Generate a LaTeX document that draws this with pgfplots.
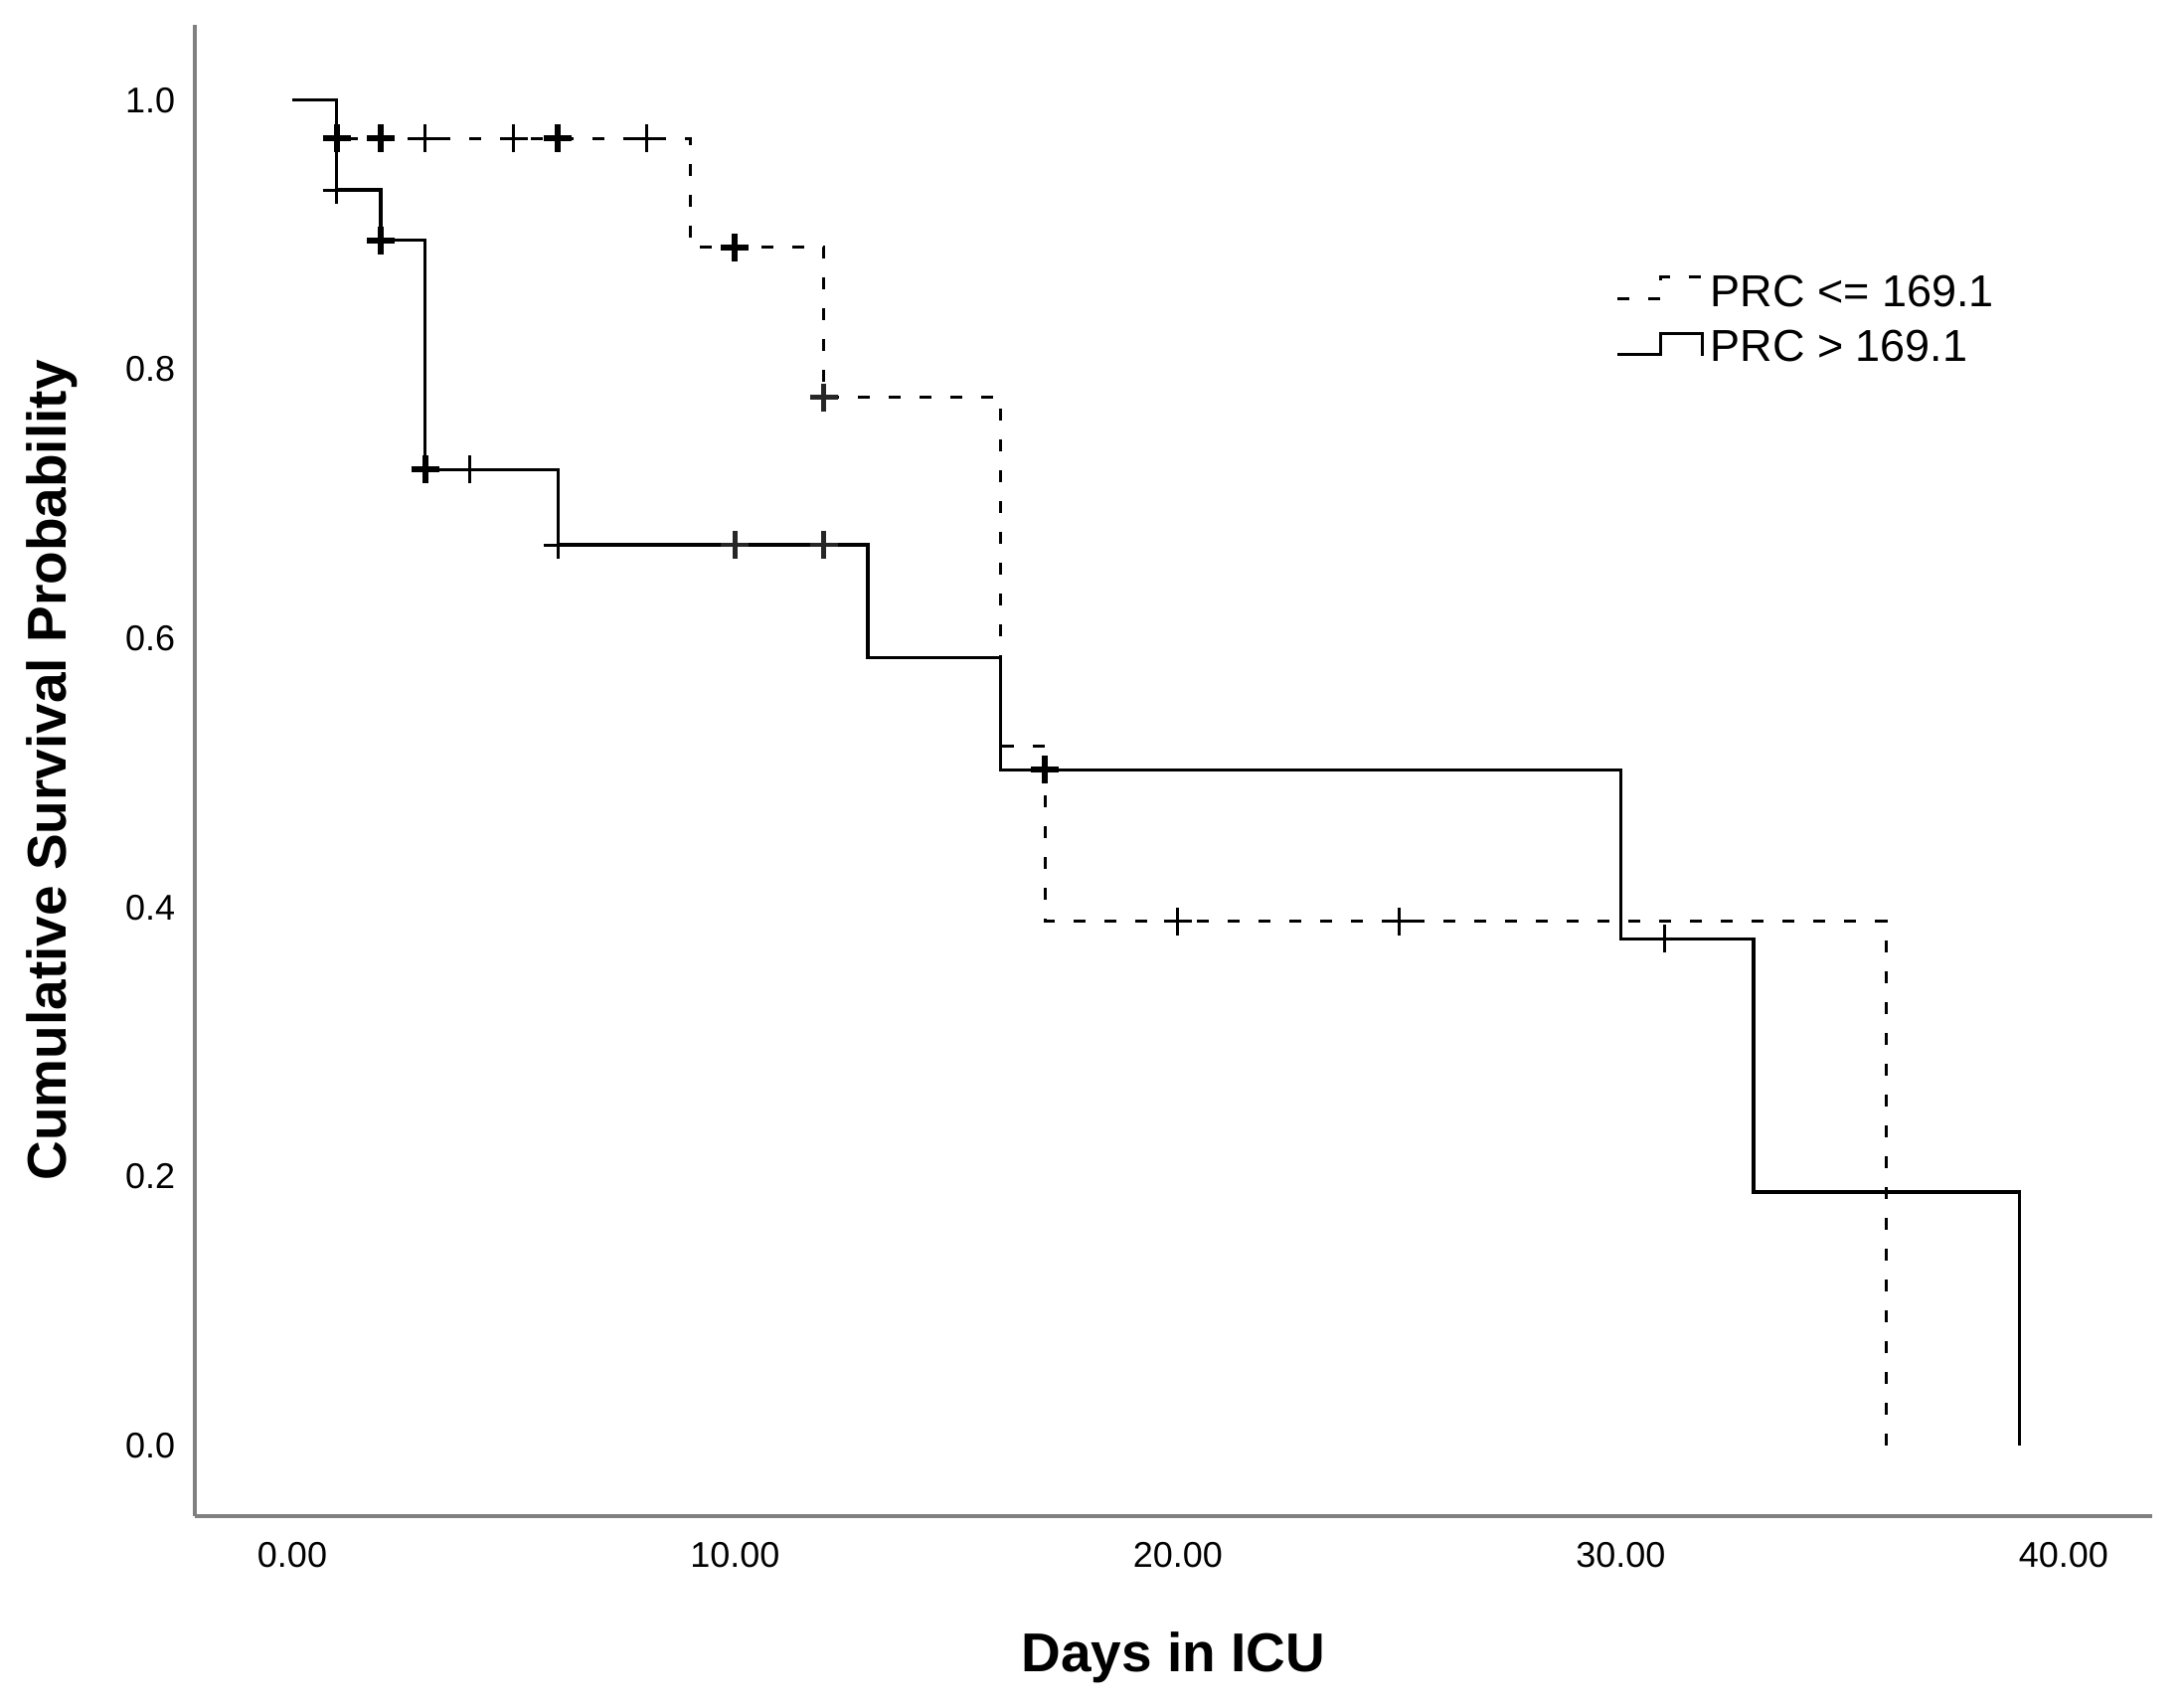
\documentclass[border=0pt]{standalone}
\usepackage{fontspec}
\setmainfont{Liberation Sans}
\usepackage{pgfplots}
\pgfplotsset{compat=1.18}
\begin{document}
\begin{tikzpicture}
\useasboundingbox (-58.8pt,-57.6pt) rectangle (600.3pt,457.5pt);
\begin{axis}[
  at={(0,0)}, anchor=south west,
  scale only axis, width=590.7pt, height=450pt,
  xmin=-2.2, xmax=42.0, ymin=-0.0525, ymax=1.056,
  axis lines*=left,
  axis line style={black!50, line width=1.1pt},
  major tick length=0pt,
  xtick={0,10,20,30,40},
  ytick={0,0.2,0.4,0.6,0.8,1.0},
  /pgf/number format/assume math mode=true,
  x tick label style={font=\fontsize{10.8pt}{12pt}\selectfont, yshift=-4.5pt,
    /pgf/number format/.cd, fixed, fixed zerofill, precision=2, /tikz/.cd},
  y tick label style={font=\fontsize{10.8pt}{12pt}\selectfont, xshift=-2.4pt,
    /pgf/number format/.cd, fixed, fixed zerofill, precision=1, /tikz/.cd},
  xlabel={Days in ICU},
  ylabel={Cumulative Survival Probability},
  x label style={font=\fontsize{16.5pt}{19pt}\selectfont\bfseries,
    at={(axis description cs:0.5,-0.0947)}, anchor=center},
  y label style={font=\fontsize{16.5pt}{19pt}\selectfont\bfseries,
    at={(axis description cs:-0.0731,0.5)}, anchor=center, rotate=0},
  legend style={draw=none, fill=none, at={(rel axis cs:0.7257,0.8367)},
    anchor=north west, inner sep=0pt, row sep=1.5pt,
    font=\fontsize{13.5pt}{15pt}\selectfont},
  legend cell align=left,
]
\addplot[const plot, black, line width=0.9pt, dash pattern=on 3.6pt off 5.7pt,
  legend image code/.code={\draw[black, line width=0.9pt, dash pattern=on 3.6pt off 5.7pt]
    (0pt,-1.5pt) -- (13pt,-1.5pt) -- (13pt,5pt) -- (25.5pt,5pt) -- (25.5pt,3pt);}]
  coordinates {(0,1) (1,0.9714) (9,0.8905) (12,0.7792) (16,0.5195) (17,0.3896) (36,0)};
\addlegendentry{PRC <= 169.1}
\addplot[const plot, black, line width=1pt,
  legend image code/.code={\draw[black, line width=1pt]
    (0pt,-1.8pt) -- (13pt,-1.8pt) -- (13pt,4.5pt) -- (25.5pt,4.5pt) -- (25.5pt,-2.4pt);}]
  coordinates {(0,1) (1,0.9333) (2,0.896) (3,0.7253) (6,0.6695) (13,0.5858) (16,0.5022) (30,0.3766) (33,0.1883) (39,0)};
\addlegendentry{PRC > 169.1}
% thin censor marks
\addplot[only marks, black, mark=+, mark size=4.2pt, mark options={line width=0.9pt}, forget plot]
  coordinates {(3,0.9714) (5,0.9714) (8,0.9714) (20,0.3896) (25,0.3896)
               (1,0.9333) (4,0.7253) (6,0.6695) (31,0.3766)};
% medium censor marks
\addplot[only marks, black!85, mark=+, mark size=4.2pt, mark options={line width=1.3pt}, forget plot]
  coordinates {(12,0.7792) (12,0.6695) (10,0.6695)};
% bold censor marks
\addplot[only marks, black, mark=+, mark size=4.2pt, mark options={line width=1.8pt}, forget plot]
  coordinates {(1,0.9714) (2,0.9714) (6,0.9714) (10,0.8905)
               (2,0.896) (3,0.7253) (17,0.5022)};
\end{axis}
\end{tikzpicture}
\end{document}
